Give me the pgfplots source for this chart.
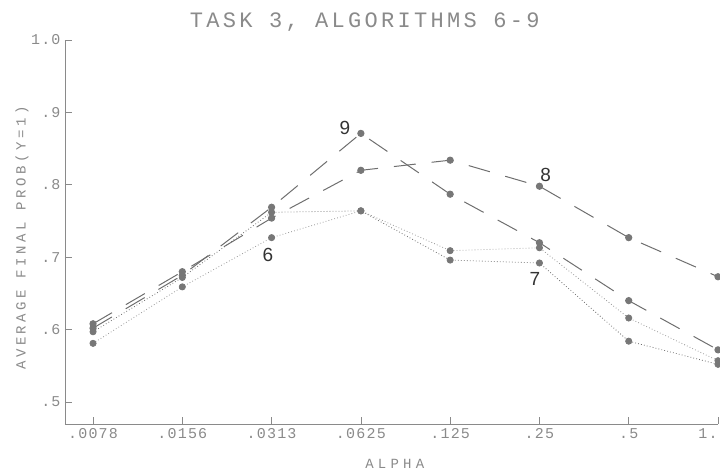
\documentclass[border=0pt]{standalone}
\usepackage{pgfplots}
\pgfplotsset{compat=1.18}
\usepackage{fontspec}
\setmonofont{Liberation Mono}
\newfontfamily\numfont{Liberation Sans}

\definecolor{plotgray}{HTML}{6E6E6E}
\definecolor{txtgray}{HTML}{8A8A8A}
\definecolor{markgray}{HTML}{777777}

\begin{document}
\begin{tikzpicture}
\path[use as bounding box] (-65pt,-46pt) rectangle (655pt,424pt);
\begin{axis}[
  at={(0,0)}, anchor=south west,
  scale only axis, width=653pt, height=384pt,
  xmin=-0.314, xmax=7, ymin=0.4696, ymax=1.0,
  axis x line*=bottom, axis y line*=left,
  axis line style={-, draw=txtgray, line width=0.6pt},
  tick align=inside, major tick length=7pt,
  tick style={draw=txtgray, line width=0.6pt},
  xtick={0,1,2,3,4,5,6,7},
  xticklabels={.0078,.0156,.0313,.0625,.125,.25,.5,1.\hspace*{20pt}},
  ytick={0.5,0.6,0.7,0.8,0.9,1.0},
  yticklabels={.5,.6,.7,.8,.9,1.0},
  ticklabel style={font=\fontsize{15}{15}\ttfamily\addfontfeatures{LetterSpace=8}, text=txtgray},
  xticklabel style={yshift=-1pt},
  yticklabel style={xshift=-1pt},
  title={TASK 3, ALGORITHMS 6-9},
  title style={font=\fontsize{22}{22}\ttfamily\addfontfeatures{LetterSpace=15}, text=txtgray,
    at={(axis description cs:0.459,1.03)}, anchor=center},
  xlabel={ALPHA},
  xlabel style={font=\fontsize{14}{14}\ttfamily\addfontfeatures{LetterSpace=30}, text=txtgray,
    at={(axis description cs:0.505,-0.104)}, anchor=center},
  ylabel={AVERAGE FINAL PROB(Y=1)},
  ylabel style={font=\fontsize{14}{14}\ttfamily\addfontfeatures{LetterSpace=25}, text=txtgray,
    at={(axis description cs:-0.066,0.484)}, anchor=center, rotate=0},
  clip=false,
  every axis plot/.append style={mark=*, mark size=3.1pt,
    mark options={solid, fill=markgray, draw=markgray}},
]
% algorithm 6 (dotted)
\addplot[color=plotgray!70, line width=0.8pt, dash pattern=on 0.8pt off 2.2pt] coordinates {
  (0,0.581) (1,0.659) (2,0.727) (3,0.764) (4,0.709) (5,0.713) (6,0.616) (7,0.557)};
% algorithm 7 (dotted)
\addplot[color=plotgray, line width=0.8pt, dash pattern=on 0.8pt off 2.2pt] coordinates {
  (0,0.597) (1,0.672) (2,0.762) (3,0.764) (4,0.696) (5,0.692) (6,0.584) (7,0.552)};
% algorithm 8 (long dashes)
\addplot[color=plotgray, line width=1pt, dash pattern=on 22pt off 16pt] coordinates {
  (0,0.608) (1,0.680) (2,0.754) (3,0.820) (4,0.834) (5,0.798) (6,0.727) (7,0.673)};
% algorithm 9 (long dashes)
\addplot[color=plotgray, line width=1pt, dash pattern=on 22pt off 16pt] coordinates {
  (0,0.602) (1,0.675) (2,0.769) (3,0.871) (4,0.787) (5,0.720) (6,0.640) (7,0.572)};

\node[font=\numfont\fontsize{19}{19}\selectfont, text=black!80] at (axis cs:1.96,0.703) {6};
\node[font=\numfont\fontsize{19}{19}\selectfont, text=black!80] at (axis cs:4.95,0.670) {7};
\node[font=\numfont\fontsize{19}{19}\selectfont, text=black!80] at (axis cs:5.07,0.814) {8};
\node[font=\numfont\fontsize{19}{19}\selectfont, text=black!80] at (axis cs:2.82,0.878) {9};
\end{axis}
\end{tikzpicture}
\end{document}
